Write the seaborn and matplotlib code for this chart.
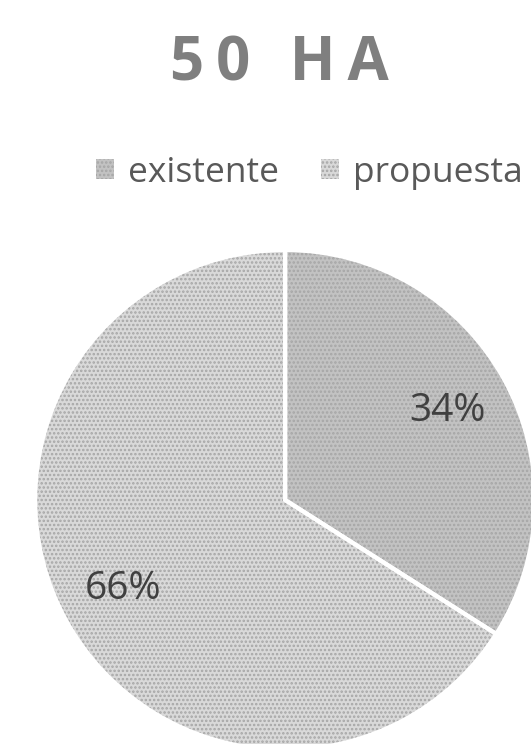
import matplotlib
matplotlib.use('Agg')
import matplotlib.pyplot as plt
import seaborn as sns

labels = ['existente', 'propuesta']
shares = [34, 66]
colors = ['#c2c2c2', '#d9d9d9']
hatches = ['....', '....']

sns.set_theme(style='white')
plt.rcParams['font.family'] = ['Open Sans', 'DejaVu Sans']
plt.rcParams['hatch.color'] = '#a6a6a6'
plt.rcParams['hatch.linewidth'] = 1.2

fig = plt.figure(figsize=(5.31, 7.44), dpi=100)
ax = fig.add_axes([0.066, -0.008, 0.942, 0.672])

wedges, texts, autotexts = ax.pie(
    shares, colors=colors, startangle=90, counterclock=False,
    autopct='%1.0f%%', pctdistance=0.74,
    textprops={'fontsize': 28, 'color': '#404040'},
    wedgeprops={'linewidth': 0, 'edgecolor': '#a6a6a6'})
for w, h in zip(wedges, hatches):
    w.set_hatch(h)

# white separators between slices
ax.pie(shares, startangle=90, counterclock=False,
       wedgeprops={'facecolor': 'none', 'edgecolor': 'white', 'linewidth': 3})

ax.set_xlim(-1.0, 1.0)
ax.set_ylim(-1.0, 1.0)
ax.set_aspect('equal')
ax.axis('off')

fig.text(0.527, 0.913, '5\u20090\u2009 \u2009H\u2009A', ha='center', va='center',
         fontsize=43, fontweight='bold', color='#7f7f7f')

fig.legend(wedges, labels, loc='center', bbox_to_anchor=(0.583, 0.768),
           ncol=2, frameon=False, fontsize=25.5, labelcolor='#595959',
           handlelength=0.5, handleheight=0.5, handletextpad=0.4,
           columnspacing=1.2)

fig.savefig('out.png', dpi=100)
